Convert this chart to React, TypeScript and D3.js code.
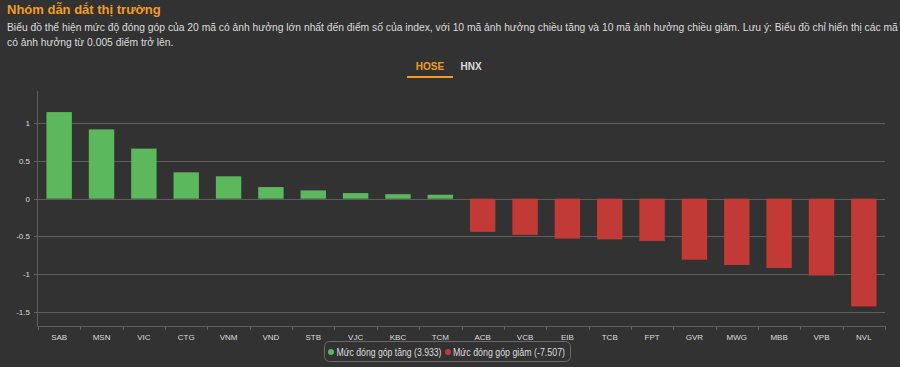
import React from "react";
import * as d3 from "d3";

const categories = ["SAB","MSN","VIC","CTG","VNM","VND","STB","VJC","KBC","TCM","ACB","VCB","EIB","TCB","FPT","GVR","MWG","MBB","VPB","NVL"];
const values = [1.15,0.92,0.665,0.35,0.297,0.155,0.11,0.075,0.06,0.053,-0.44,-0.48,-0.53,-0.54,-0.56,-0.81,-0.88,-0.92,-1.02,-1.43];
const yTicks = [1,0.5,0,-0.5,-1,-1.5];
const yTickLabels = ["1","0.5","0","-0.5","-1","-1.5"];
const legendLabels = ["Mức đóng góp tăng (3.933)","Mức đóng góp giảm (-7.507)"];
const tabs = ["HOSE","HNX"];
const title = "Nhóm dẫn dắt thị trường";
const descLines = [
  "Biểu đồ thể hiện mức độ đóng góp của 20 mã có ảnh hưởng lớn nhất đến điểm số của index, với 10 mã ảnh hưởng chiều tăng và 10 mã ảnh hưởng chiều giảm. Lưu ý: Biểu đồ chỉ hiển thị các mã",
  "có ảnh hưởng từ 0.005 điểm trở lên."
];

const W = 900, H = 367;
const BG = "#323232";
const GREEN = "#5cb85c";
const RED = "#c23a35";
const GRID = "#5e5e5e";
const TEXT = "#dcdcdc";
const FONT = "'Liberation Sans', Arimo, sans-serif";

export default function App() {
  const x = d3.scaleBand<string>().domain(categories).range([38, 885]).paddingInner(0.4).paddingOuter(0.2);
  const y = d3.scaleLinear().domain([-1.69, 1.43]).range([326, 91]);
  const boundaries = d3.range(categories.length + 1).map(i => 38 + i * (847 / categories.length));

  return (
    <div style={{ position: "absolute", left: 0, top: 0, width: W, height: H, background: BG }}>
      <svg width={W} height={H} style={{ display: "block", fontFamily: FONT }}>
        <rect x={0} y={0} width={W} height={H} fill={BG} />
        <text x={7} y={14} fill="#f39c23" fontSize={13} fontWeight="bold">{title}</text>
        {descLines.map((l, i) => (
          <text key={i} x={7} y={31 + i * 14.5} fill={TEXT} fontSize={10.3}>{l}</text>
        ))}
        {/* tabs */}
        <text x={430} y={70} fill="#f39c23" fontSize={10} fontWeight="bold" textAnchor="middle">{tabs[0]}</text>
        <rect x={407} y={76} width={46} height={2} fill="#f39c23" />
        <text x={471} y={70} fill={TEXT} fontSize={10} fontWeight="bold" textAnchor="middle">{tabs[1]}</text>

        {/* grid */}
        {yTicks.map((t, i) => (
          <g key={i}>
            <line x1={34} x2={885} y1={Math.round(y(t)) + 0.5} y2={Math.round(y(t)) + 0.5} stroke={GRID} strokeWidth={1} />
            <text x={30} y={y(t) + 3} fill={TEXT} fontSize={8} textAnchor="end">{yTickLabels[i]}</text>
          </g>
        ))}
        {/* y axis */}
        <line x1={37.5} x2={37.5} y1={91} y2={326} stroke={GRID} />
        {/* x axis */}
        <line x1={37.5} x2={885} y1={326.5} y2={326.5} stroke={GRID} />
        {boundaries.map((b, i) => (
          <line key={i} x1={Math.round(b) + 0.5} x2={Math.round(b) + 0.5} y1={326} y2={330} stroke={GRID} />
        ))}
        {/* bars */}
        {categories.map((c, i) => {
          const v = values[i];
          const y0 = y(0), y1 = y(v);
          return (
            <rect key={c} x={x(c)} width={x.bandwidth()} y={Math.min(y0, y1)} height={Math.abs(y1 - y0)} fill={v >= 0 ? GREEN : RED} />
          );
        })}
        {categories.map(c => (
          <text key={c} x={(x(c) as number) + x.bandwidth() / 2} y={340} fill={TEXT} fontSize={8} textAnchor="middle">{c}</text>
        ))}
        {/* legend */}
        <rect x={324.5} y={341.5} width={246} height={20} rx={5} fill="none" stroke="#6a6a6a" />
        <circle cx={331} cy={352} r={3} fill={GREEN} />
        <text x={336.5} y={355.5} fill={TEXT} fontSize={10} textLength={105} lengthAdjust="spacingAndGlyphs">{legendLabels[0]}</text>
        <circle cx={448} cy={352} r={3} fill={RED} />
        <text x={453} y={355.5} fill={TEXT} fontSize={10} textLength={112} lengthAdjust="spacingAndGlyphs">{legendLabels[1]}</text>
      </svg>
    </div>
  );
}
